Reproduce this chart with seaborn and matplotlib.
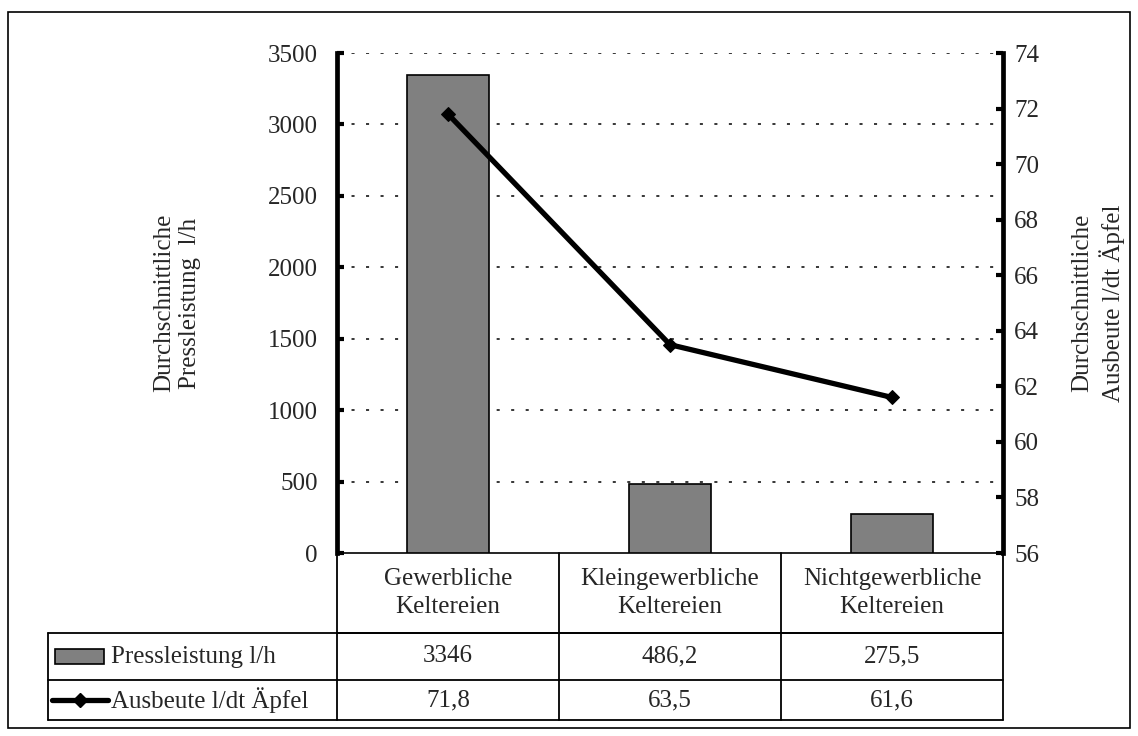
import matplotlib
matplotlib.use("Agg")
import matplotlib.pyplot as plt
import seaborn as sns
import numpy as np
import pandas as pd
from matplotlib.patches import Rectangle
from matplotlib.lines import Line2D

categories = ["Gewerbliche\nKeltereien", "Kleingewerbliche\nKeltereien", "Nichtgewerbliche\nKeltereien"]
press = [3346, 486.2, 275.5]
yield_ = [71.8, 63.5, 61.6]
press_labels = ["3346", "486,2", "275,5"]
yield_labels = ["71,8", "63,5", "61,6"]
series_names = ["Pressleistung l/h", "Ausbeute l/dt Äpfel"]
left_ticks = [0, 500, 1000, 1500, 2000, 2500, 3000, 3500]
right_ticks = [56, 58, 60, 62, 64, 66, 68, 70, 72, 74]
left_title = "Durchschnittliche\nPressleistung  l/h"
right_title = "Durchschnittliche\nAusbeute l/dt Äpfel"

sns.set_theme(style="white")
plt.rcParams['font.family'] = ['Liberation Serif', 'DejaVu Serif']
FS = 18

fig = plt.figure(figsize=(11.38, 7.36), dpi=100)
W, H = 1138, 736
def fx(px): return px / W
def fy(py): return 1 - py / H
ftr = fig.transFigure

ax = fig.add_axes([337 / W, 1 - 553 / H, (1003 - 337) / W, (553 - 53) / H])

df = pd.DataFrame({"cat": categories, "press": press})
sns.barplot(data=df, x="cat", y="press", ax=ax, color="#808080", saturation=1,
            edgecolor="black", linewidth=1.2, width=0.37, zorder=3)
ax.set_xlim(-0.5, 2.5)
ax.set_ylim(0, 3500)
ax.set_yticks(left_ticks)
ax.set_yticklabels([str(t) for t in left_ticks], fontsize=FS)
ax.set_xticks([])
ax.set_xlabel("")
ax.set_ylabel("")
for t in left_ticks[1:]:
    ax.axhline(t, color="black", lw=1.1, ls=(0, (2, 7.5)), zorder=1)
ax.spines["top"].set_visible(False)
ax.spines["left"].set_linewidth(3.4)
ax.spines["left"].set_color("black")
ax.spines["bottom"].set_linewidth(1.2)
ax.spines["bottom"].set_color("black")
ax.spines["right"].set_visible(False)
ax.tick_params(axis="y", direction="in", length=5, width=3, color="black", pad=14, left=True)

ax2 = ax.twinx()
sns.lineplot(x=np.arange(len(yield_)), y=yield_, ax=ax2, color="black", lw=3.8,
             marker="D", markersize=7, markeredgecolor="black", zorder=4)
ax2.set_ylim(56, 74)
ax2.set_yticks(right_ticks)
ax2.set_yticklabels([str(t) for t in right_ticks], fontsize=FS)
ax2.set_xlim(-0.5, 2.5)
ax2.set_ylabel("")
for s in ["top", "left", "bottom"]:
    ax2.spines[s].set_visible(False)
ax2.spines["right"].set_linewidth(3.4)
ax2.spines["right"].set_color("black")
ax2.tick_params(axis="y", direction="in", length=5, width=3, color="black", pad=8, right=True)

fig.text(fx(177), fy(303), left_title, rotation=90, ha="center", va="center",
         multialignment="center", fontsize=FS, linespacing=1.25)
fig.text(fx(1098), fy(303), right_title, rotation=90, ha="center", va="center",
         multialignment="center", fontsize=FS, linespacing=1.25)

# data table
bt = ax.get_xaxis_transform()
y_cat_bot = (553 - 633) / 500
y_r1_bot = (553 - 680) / 500
y_r2_bot = (553 - 720) / 500
x_left = -0.5 - (337 - 48) / 666 * 3
lk = dict(color="black", lw=1.3, transform=bt, clip_on=False)
ax.add_line(Line2D([-0.5, 2.5], [y_cat_bot, y_cat_bot], **lk))
ax.add_line(Line2D([x_left, 2.5], [y_cat_bot, y_cat_bot], **lk))
ax.add_line(Line2D([x_left, 2.5], [y_r1_bot, y_r1_bot], **lk))
ax.add_line(Line2D([x_left, 2.5], [y_r2_bot, y_r2_bot], **lk))
ax.add_line(Line2D([x_left, x_left], [y_cat_bot, y_r2_bot], **lk))
for xb in [-0.5, 0.5, 1.5, 2.5]:
    ax.add_line(Line2D([xb, xb], [0, y_r2_bot], **lk))

for i, c in enumerate(categories):
    ax.text(i, y_cat_bot / 2, c, ha="center", va="center", fontsize=FS, transform=bt,
            linespacing=1.35)
    ax.text(i, (y_cat_bot + y_r1_bot) / 2, press_labels[i], ha="center", va="center",
            fontsize=FS, transform=bt)
    ax.text(i, (y_r1_bot + y_r2_bot) / 2, yield_labels[i], ha="center", va="center",
            fontsize=FS, transform=bt)

# row headers with legend keys
fig.patches.append(Rectangle((fx(55), fy(664)), fx(104) - fx(55), fy(649) - fy(664),
                             facecolor="#808080", edgecolor="black", lw=1.2, transform=ftr))
fig.text(fx(111), fy(657), series_names[0], ha="left", va="center", fontsize=FS)
fig.lines.append(Line2D([fx(52), fx(108)], [fy(700), fy(700)], color="black", lw=3.8,
                        transform=ftr))
fig.lines.append(Line2D([fx(80)], [fy(700)], color="black", marker="D", markersize=7,
                        transform=ftr))
fig.text(fx(111), fy(700), series_names[1], ha="left", va="center", fontsize=FS)

# outer border
fig.patches.append(Rectangle((fx(8), fy(728)), fx(1130) - fx(8), fy(12) - fy(728),
                             facecolor="none", edgecolor="black", lw=1.2, transform=ftr))

fig.savefig("out.png", dpi=100)
